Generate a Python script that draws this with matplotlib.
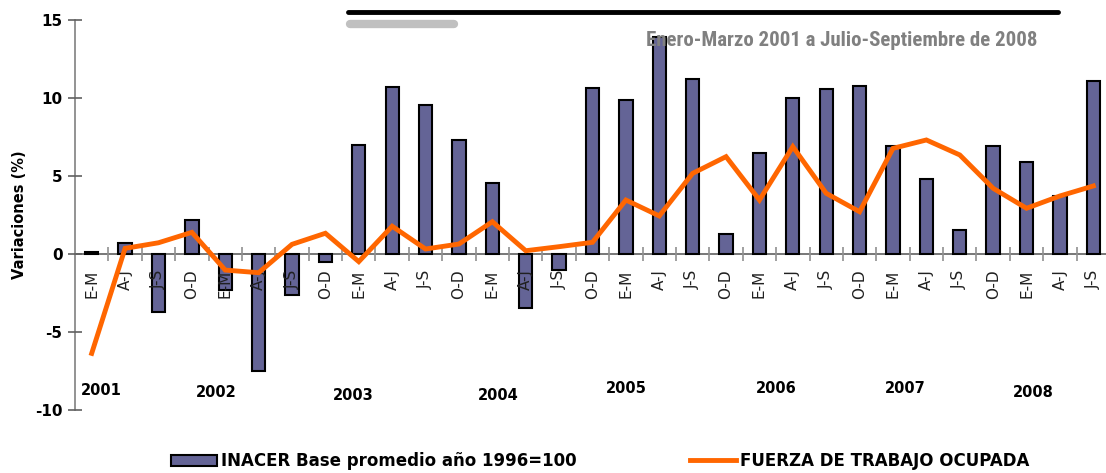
import matplotlib
matplotlib.use("Agg")
import matplotlib.pyplot as plt
from matplotlib.lines import Line2D
from matplotlib.patches import Patch
from matplotlib import font_manager
import numpy as np

quarters = ["E-M", "A-J", "J-S", "O-D"] * 7 + ["E-M", "A-J", "J-S"]
inacer = [0.1, 0.7, -3.7, 2.2, -2.3, -7.5, -2.65, -0.5,
          7.0, 10.7, 9.55, 7.3, 4.57, -3.44, -1.03, 10.66,
          9.9, 13.9, 11.2, 1.3, 6.5, 9.98, 10.6, 10.75,
          6.9, 4.8, 1.54, 6.9, 5.9, 3.7, 11.1]
fuerza = [-6.37, 0.36, 0.72, 1.39, -1.03, -1.2, 0.62, 1.33,
          -0.49, 1.78, 0.32, 0.64, 2.07, 0.21, 0.47, 0.75,
          3.46, 2.44, 5.17, 6.24, 3.46, 6.88, 3.89, 2.71,
          6.77, 7.31, 6.35, 4.21, 2.93, 3.72, 4.36]
years = ["2001", "2002", "2003", "2004", "2005", "2006", "2007", "2008"]
yticks = [-10, -5, 0, 5, 10, 15]

# layout of year labels (category units, data y)
year_x = [0.28, 3.72, 7.82, 12.17, 16.0, 20.49, 24.38, 28.21]
year_y = [-8.72, -8.85, -9.04, -9.04, -8.65, -8.65, -8.65, -8.9]

available = {f.name for f in font_manager.fontManager.ttflist}
narrow = None
for cand in ["Liberation Sans Narrow", "Roboto Condensed", "Open Sans Condensed",
             "DejaVu Sans Condensed", "Arial Narrow"]:
    if cand in available:
        narrow = cand
        break
if narrow is None:
    narrow_family = ["Roboto", "DejaVu Sans"]
    narrow_ok = False
else:
    narrow_family = [narrow, "DejaVu Sans"]
    narrow_ok = True

W, H = 1106, 473
fig = plt.figure(figsize=(W / 100, H / 100), dpi=100)
ax = fig.add_axes([75 / W, (H - 410) / H, (1110 - 75) / W, (410 - 20) / H])
ax.set_axisbelow(False)

x = np.arange(len(quarters))
bar_c = "#646496"
line_c = "#FF6600"
ax.bar(x, inacer, width=0.4, color=bar_c, edgecolor="black", linewidth=1.5, zorder=2)
ax.plot(x, fuerza, color=line_c, linewidth=3.5, zorder=3, solid_joinstyle="miter")

ax.set_xlim(-0.5, len(quarters) - 0.5)
ax.set_ylim(-10, 15)

for s in ["top", "right"]:
    ax.spines[s].set_visible(False)
ax.spines["left"].set_color("#808080")
ax.spines["left"].set_linewidth(1.2)
ax.spines["bottom"].set_position(("data", 0))
ax.spines["bottom"].set_color("#606060")
ax.spines["bottom"].set_linewidth(1.2)
ax.spines["bottom"].set_zorder(1.5)

ax.set_yticks(yticks)
ax.set_yticklabels([str(v) for v in yticks], fontsize=11, fontweight="bold")
ax.tick_params(axis="y", direction="inout", length=10, width=1.2, color="#606060", pad=4)

ax.set_xticks(x)
ax.set_xticklabels(quarters, rotation=90, fontsize=11, color="#202020")
ax.set_xticks(np.arange(0.5, len(quarters) - 0.5, 1.0), minor=True)
ax.tick_params(axis="x", which="major", length=0, pad=11)
ax.tick_params(axis="x", which="minor", direction="inout", length=10, width=1.2, color="#909090")

ax.set_ylabel("Variaciones (%)", fontsize=10.5, fontweight="bold", labelpad=6)

for yl, xx, yy in zip(years, year_x, year_y):
    ax.text(xx, yy, yl, fontsize=10.5, fontweight="bold", ha="center", va="center")

# header decorations
fig.add_artist(Line2D([348 / W, 1058 / W], [1 - 12 / H, 1 - 12 / H], color="black",
                      linewidth=3.5, solid_capstyle="round"))
fig.add_artist(Line2D([350 / W, 454 / W], [1 - 24 / H, 1 - 24 / H], color="#c0c0c0",
                      linewidth=6, solid_capstyle="round"))
fig.text(1037 / W, 1 - 40 / H, "Enero-Marzo 2001 a Julio-Septiembre de 2008",
         family=narrow_family, fontsize=15 if narrow_ok else 13,
         fontweight="bold" if narrow_ok else "medium",
         color="#808080", ha="right", va="center")

handles = [Patch(facecolor=bar_c, edgecolor="black", linewidth=1.5),
           Line2D([], [], color=line_c, linewidth=3.5)]
labels = ["INACER Base promedio año 1996=100", "FUERZA DE TRABAJO OCUPADA"]
fig.legend(handles, labels, loc="center", bbox_to_anchor=(600 / W, 12 / H), ncol=2,
           frameon=False, prop={"family": "DejaVu Sans", "size": 12, "weight": "bold"},
           handlelength=2.75, handleheight=0.63, handletextpad=0.25, columnspacing=6.8)

fig.savefig("out.png", dpi=100)
